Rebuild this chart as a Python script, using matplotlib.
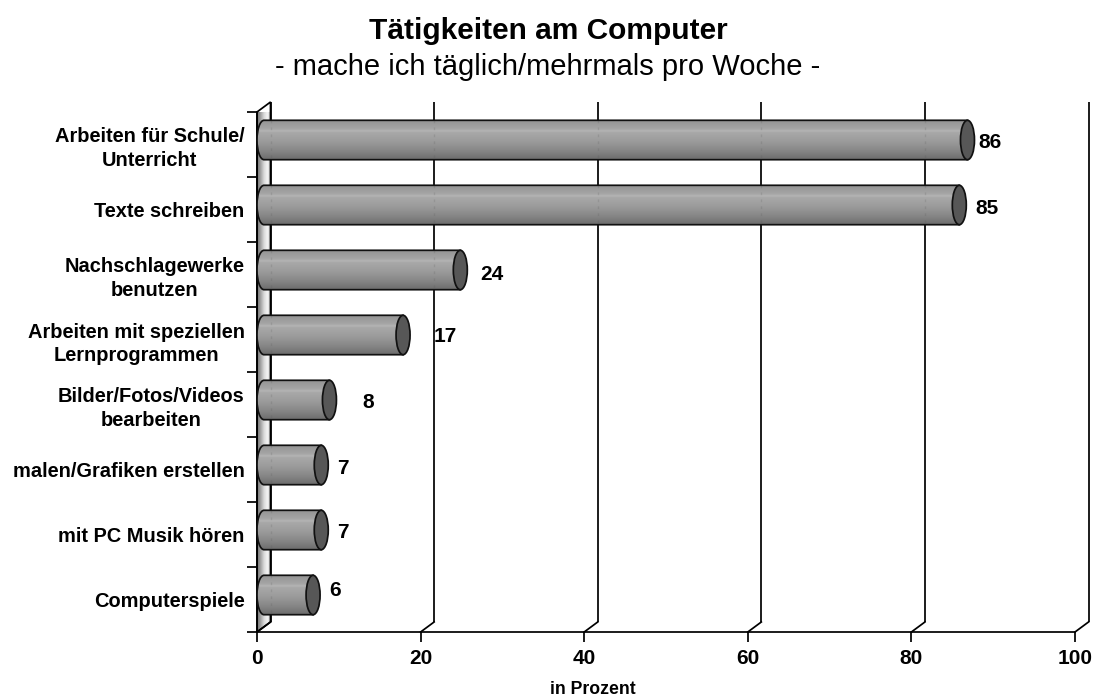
import numpy as np
import matplotlib
matplotlib.use("Agg")
import matplotlib.pyplot as plt
from matplotlib.patches import Polygon, Ellipse, PathPatch
from matplotlib.path import Path
from matplotlib.colors import LinearSegmentedColormap

plt.rcParams['font.family'] = ['Liberation Sans', 'DejaVu Sans']

categories = ["Arbeiten für Schule/\nUnterricht", "Texte schreiben", "Nachschlagewerke\nbenutzen",
              "Arbeiten mit speziellen\nLernprogrammen", "Bilder/Fotos/Videos\nbearbeiten",
              "malen/Grafiken erstellen", "mit PC Musik hören", "Computerspiele"]
values = [86, 85, 24, 17, 8, 7, 7, 6]
xticks = [0, 20, 40, 60, 80, 100]
title = "Tätigkeiten am Computer"
subtitle = "- mache ich täglich/mehrmals pro Woche -"
xlabel = "in Prozent"

W, H = 1095, 700
L, R, T, B = 257, 1075, 112, 632
fig = plt.figure(figsize=(W / 100, H / 100), dpi=100)
ax = fig.add_axes([L / W, 1 - B / H, (R - L) / W, (B - T) / H])
ax.set_xlim(0, 100)
ax.set_ylim(len(categories), 0)
px = 100 / (R - L)            # data x per pixel
py = len(categories) / (B - T)  # data y per pixel
dx, dy = 13.5 * px, 10 * py   # 3-D depth offset
N = len(categories)
LW = 1.25

for s in ('top', 'right'):
    ax.spines[s].set_visible(False)
for s in ('left', 'bottom'):
    ax.spines[s].set_linewidth(LW)
    ax.spines[s].set_color('black')

# Side wall
wall = Polygon([(0, 0), (dx, -dy), (dx, N - dy), (0, N)],
               closed=True, fc='none', ec='black', lw=LW, zorder=2, clip_on=False)
ax.add_patch(wall)
wall_cmap = LinearSegmentedColormap.from_list('w', ['#707070', '#a0a0a0', '#d8d8d8', '#f4f4f4', '#c8c8c8'])
im = ax.imshow(np.linspace(0, 1, 64)[None, :], cmap=wall_cmap, aspect='auto',
               extent=(0, dx, N, -dy), zorder=1, clip_on=True)
im.set_clip_path(wall)

# Gridlines on the back wall and floor
for t in xticks:
    ax.plot([t + dx, t + dx], [-dy, N - dy], color='black', lw=LW, zorder=2,
            clip_on=False, solid_capstyle='butt')
    ax.plot([t, t + dx], [N, N - dy], color='black', lw=LW, zorder=2, clip_on=False)

# Cylinders
bar_cmap = LinearSegmentedColormap.from_list(
    'b', [(0, '#949494'), (0.2, '#a4a4a4'), (0.27, '#b4b4b4'), (0.31, '#a8a8a8'),
          (0.55, '#9a9a9a'), (0.8, '#848484'), (0.93, '#747474'), (1, '#6c6c6c')])
half = 19.7 * py
r = 7 * px
K = 0.5523
for i, v in enumerate(values):
    yc = i + 0.5 - 4.5 * py
    x1 = v
    verts = [(r, yc - half), (x1 + r, yc - half), (x1 + r, yc + half), (r, yc + half),
             (r - K * r, yc + half), (0, yc + K * half), (0, yc),
             (0, yc - K * half), (r - K * r, yc - half), (r, yc - half), (r, yc - half)]
    codes = [Path.MOVETO, Path.LINETO, Path.LINETO, Path.LINETO,
             Path.CURVE4, Path.CURVE4, Path.CURVE4, Path.CURVE4, Path.CURVE4, Path.CURVE4,
             Path.CLOSEPOLY]
    body = PathPatch(Path(verts, codes), fc='none', ec='#111111', lw=LW, zorder=5, clip_on=False)
    ax.add_patch(body)
    g = ax.imshow(np.linspace(0, 1, 64)[:, None], cmap=bar_cmap, aspect='auto',
                  extent=(0, x1 + r, yc + half, yc - half), zorder=4, clip_on=True)
    g.set_clip_path(body)
    # Faint gridlines showing through the cylinder
    for t in xticks:
        if t + dx < x1 + r:
            ax.plot([t + dx, t + dx], [yc - half, yc + half], color='#555555', lw=1.0,
                    ls=(0, (2, 3)), alpha=0.18, zorder=4.5)
    cap = Ellipse((x1 + r, yc), 2 * r, 2 * half, fc='#575757', ec='#111111', lw=LW,
                  zorder=6, clip_on=False)
    ax.add_patch(cap)
ax.set_xlim(0, 100)
ax.set_ylim(N, 0)

# Value labels (hand-placed in the original chart)
label_px = [(990, 142), (987, 208), (492, 274), (445, 337), (368, 402), (343, 468), (343, 532), (335, 590)]
for v, (lx, ly) in zip(values, label_px):
    ax.text((lx - L) * px, (ly - T) * py, str(v), ha='center', va='center',
            fontsize=15, fontweight='bold', color='black', zorder=7)

# Axes ticks and labels
ax.set_xticks(xticks)
ax.set_xticklabels([str(t) for t in xticks], fontsize=15, fontweight='bold')
ax.tick_params(axis='x', length=7.2, width=LW, pad=5)
ax.set_yticks(np.arange(N + 1))
ax.set_yticklabels([])
ax.tick_params(axis='y', which='major', length=7.2, width=LW)
ax.set_yticks(np.arange(N) + 0.5, minor=True)
ax.set_yticklabels(categories, minor=True, fontsize=14.4, fontweight='bold',
                   multialignment='center', linespacing=1.3)
ax.tick_params(axis='y', which='minor', length=0, pad=9)

ax.text((593 - L) * px, (689 - T) * py, xlabel, ha='center', va='center', fontsize=12.7,
        fontweight='bold', clip_on=False)
fig.text(548 / W, 1 - 31 / H, title, ha='center', va='center', fontsize=21.5, fontweight='bold')
fig.text(548 / W, 1 - 67 / H, subtitle, ha='center', va='center', fontsize=21)

fig.savefig('out.png', dpi=100)
